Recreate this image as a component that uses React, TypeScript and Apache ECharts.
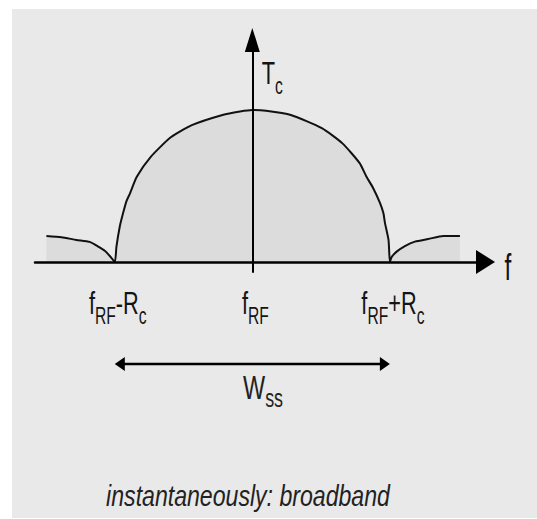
import React, { useEffect, useRef } from 'react';
import * as echarts from 'echarts';

// Spectrum shape: frequency offset (in units of Rc from fRF) and relative level (Tc = 1)
const freq = [
  -1.497, -1.388, -1.279, -1.182, -1.121, -1.073, -1.036, -1.0,
  -0.988, -0.964, -0.94, -0.915, -0.89, -0.84, -0.74, -0.593, -0.44, -0.217, -0.09, 0.0,
  0.1, 0.28, 0.505, 0.655, 0.78, 0.83, 0.876, 0.927, 0.953, 0.964, 0.99, 1.0,
  1.012, 1.049, 1.109, 1.182, 1.279, 1.388, 1.509,
];
const level = [
  0.171, 0.163, 0.145, 0.132, 0.101, 0.074, 0.039, 0.0,
  0.1, 0.232, 0.32, 0.4, 0.45, 0.56, 0.69, 0.82, 0.9, 0.967, 0.99, 1.0,
  0.995, 0.967, 0.88, 0.78, 0.65, 0.56, 0.49, 0.39, 0.32, 0.257, 0.145, 0.0,
  0.031, 0.068, 0.105, 0.134, 0.151, 0.171, 0.171,
];

const tickValues = [-1, 0, 1];
const tickLabels = [
  '{m|f}{s|RF}{m|-R}{s|c}',
  '{m|f}{s|RF}',
  '{m|f}{s|RF}{m|+R}{s|c}',
];
const xAxisName = '{b|f}';
const yAxisName = '{m|T}{s|c}';
const bandEdges = [-1, 1];
const bandLabel = '{w|W}{ws|ss}';
const caption = 'instantaneously: broadband';

const FONT = 'Liberation Sans, Arial, sans-serif';
const INK = '#141414';

const RICH = {
  m: { fontSize: 32, lineHeight: 32, verticalAlign: 'top', fontFamily: FONT, fill: INK, color: INK },
  s: { fontSize: 23, lineHeight: 40, verticalAlign: 'bottom', fontFamily: FONT, fill: INK, color: INK },
  b: { fontSize: 36, lineHeight: 36, verticalAlign: 'top', fontFamily: FONT, fill: INK, color: INK },
  w: { fontSize: 34, lineHeight: 34, verticalAlign: 'top', fontFamily: FONT, fill: '#222', color: '#222' },
  ws: { fontSize: 26, lineHeight: 41, verticalAlign: 'bottom', fontFamily: FONT, fill: '#222', color: '#222' },
};

function richText(text: string, x: number, y: number, align: string, scaleX: number) {
  return {
    type: 'text',
    x,
    y,
    scaleX,
    z: 10,
    silent: true,
    style: {
      text,
      rich: RICH,
      fill: INK,
      align,
      textAlign: align,
      verticalAlign: 'top',
      textVerticalAlign: 'top',
      fontFamily: FONT,
    },
  };
}

export default function App() {
  const ref = useRef<HTMLDivElement>(null);

  useEffect(() => {
    const el = ref.current!;
    const chart = echarts.init(el, null, { renderer: 'svg' });
    const data = freq.map((f, i) => [f, level[i]]);

    chart.setOption({
      animation: false,
      backgroundColor: '#ffffff',
      grid: { left: 35, right: 51.5, top: 40, bottom: 247, outerBoundsMode: 'none', containLabel: false },
      xAxis: {
        type: 'value',
        min: -1.58,
        max: 1.695,
        z: 5,
        axisLine: {
          onZero: true,
          symbol: ['none', 'triangle'],
          symbolSize: [24, 19],
          lineStyle: { color: '#000', width: 2.5 },
        },
        axisTick: { show: false },
        axisLabel: { show: false },
        splitLine: { show: false },
      },
      yAxis: {
        type: 'value',
        min: -0.066,
        max: 1.46,
        z: 5,
        axisLine: {
          onZero: true,
          symbol: ['none', 'triangle'],
          symbolSize: [15, 24],
          lineStyle: { color: '#000', width: 2 },
        },
        axisTick: { show: false },
        axisLabel: { show: false },
        splitLine: { show: false },
      },
      series: [
        {
          type: 'line',
          data,
          showSymbol: false,
          smooth: 0.2,
          z: 2,
          lineStyle: { color: '#111', width: 2 },
          areaStyle: { color: '#dcdcdc', opacity: 1 },
        },
      ],
    });

    const px = (x: number, y: number) => chart.convertToPixel({ gridIndex: 0 }, [x, y]) as number[];
    const origin = px(0, 0);
    const peak = px(0, 1);
    const xEnd = px(1.695, 0);

    const elements: any[] = [];
    elements.push({
      type: 'rect',
      z: -10,
      silent: true,
      shape: { x: 12, y: 9, width: 525, height: 509 },
      style: { fill: '#e9e9e9' },
    });

    tickValues.forEach((v, i) => {
      const p = px(v, 0);
      elements.push(richText(tickLabels[i], p[0] + 3, p[1] + 25, 'center', 0.68));
    });

    elements.push(richText(xAxisName, xEnd[0] + 22.5, origin[1] - 12, 'center', 0.68));
    elements.push(richText(yAxisName, origin[0] + 9.4, peak[1] - 53, 'left', 0.68));

    // W_ss double arrow
    const a = px(bandEdges[0], 0);
    const b = px(bandEdges[1], 0);
    const ay = origin[1] + 102;
    elements.push({
      type: 'line',
      z: 10,
      silent: true,
      shape: { x1: a[0] + 6, y1: ay, x2: b[0] - 6, y2: ay },
      style: { stroke: '#000', lineWidth: 2.5 },
    });
    elements.push({
      type: 'polygon',
      z: 10,
      silent: true,
      shape: { points: [[a[0], ay], [a[0] + 10, ay - 7], [a[0] + 10, ay + 7]] },
      style: { fill: '#000' },
    });
    elements.push({
      type: 'polygon',
      z: 10,
      silent: true,
      shape: { points: [[b[0], ay], [b[0] - 10, ay - 7], [b[0] - 10, ay + 7]] },
      style: { fill: '#000' },
    });
    elements.push(richText(bandLabel, origin[0] + 10.7, origin[1] + 108, 'center', 0.69));

    elements.push({
      type: 'text',
      x: 248,
      y: 480.5,
      scaleX: 0.77,
      z: 10,
      silent: true,
      style: {
        text: caption,
        rich: { i: { fontSize: 30, lineHeight: 30, verticalAlign: 'top', fontStyle: 'italic', fontFamily: FONT, fill: '#222' } },
        fill: '#222',
        align: 'center',
        textAlign: 'center',
        verticalAlign: 'top',
        textVerticalAlign: 'top',
        fontSize: 30,
        fontStyle: 'italic',
        fontFamily: FONT,
      },
    });

    chart.setOption({ graphic: { elements } });

    return () => chart.dispose();
  }, []);

  return (
    <div
      ref={ref}
      style={{ position: 'fixed', left: 0, top: 0, width: 537, height: 519 }}
    />
  );
}
